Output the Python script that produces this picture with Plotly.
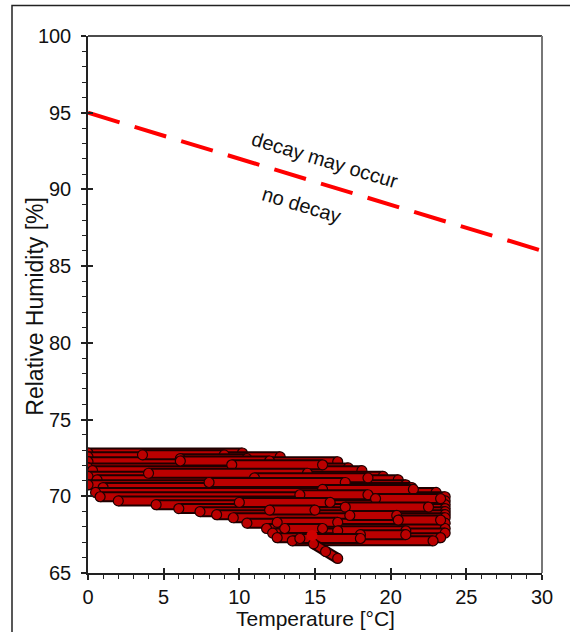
import plotly.graph_objects as go

# ---- data ----
# horizontal strands of observations: RH level [%], start / end temperature [°C]
strand_rh = [72.82, 72.57, 72.25, 71.85, 71.67, 71.30, 71.07, 70.75, 70.57, 70.25,
             69.97, 69.70, 69.45, 69.20, 69.00, 68.80, 68.60, 68.25, 67.90, 67.60,
             67.30, 67.10]
strand_t0 = [0.0, 0.0, 0.0, 0.0, 0.3, 0.0, 0.6, 0.0, 1.0, 0.5,
             0.8, 2.0, 4.5, 6.0, 7.4, 8.5, 9.6, 10.5, 11.8, 12.2,
             12.5, 13.5]
strand_t1 = [10.2, 12.7, 16.5, 17.2, 18.1, 19.5, 20.5, 21.0, 21.4, 23.0,
             23.6, 23.6, 23.6, 23.6, 23.6, 23.6, 23.6, 23.6, 23.6, 23.6,
             23.3, 22.8]
# shorter overlapping runs inside the cloud
run_rh = [72.70, 72.45, 72.30, 72.05, 71.50, 71.20, 70.90, 70.45, 70.10, 69.85,
          69.60, 69.30, 69.10, 68.75, 68.45, 68.30, 67.90, 67.75, 67.50, 67.25]
run_t0 = [3.6, 6.1, 6.1, 9.5, 4.0, 11.0, 8.0, 15.5, 14.0, 19.0,
          10.0, 17.0, 12.0, 17.3, 20.5, 12.5, 13.0, 16.5, 18.0, 14.0]
run_t1 = [9.0, 10.5, 12.0, 15.5, 14.5, 18.5, 17.0, 21.5, 18.5, 23.3,
          16.0, 22.5, 15.0, 20.4, 23.3, 16.5, 15.5, 21.0, 21.0, 18.0]
# tail of the cloud
tail_t = [14.9, 15.7, 16.5]
tail_rh = [66.9, 66.4, 65.95]
# last observation
last_t = [14.8]
last_rh = [67.45]
# decay threshold line
thr_t = [0.0, 30.5]
thr_rh = [95.0, 85.85]

FILL = "#bb0000"
EDGE = "#1e0000"

fig = go.Figure()


def add_run(ts, rs):
    fig.add_trace(go.Scatter(x=ts, y=rs, mode="lines",
                             line=dict(color=EDGE, width=11),
                             hoverinfo="skip", showlegend=False))
    fig.add_trace(go.Scatter(x=ts, y=rs, mode="lines+markers",
                             line=dict(color=FILL, width=7),
                             marker=dict(size=10, color=FILL, line=dict(color=EDGE, width=1.2)),
                             hoverinfo="skip", showlegend=False))


for r, a, b in zip(strand_rh, strand_t0, strand_t1):
    add_run([a, b], [r, r])
for r, a, b in zip(run_rh, run_t0, run_t1):
    add_run([a, b], [r, r])
add_run(tail_t, tail_rh)

fig.add_trace(go.Scatter(x=last_t, y=last_rh, mode="markers",
                         marker=dict(size=11, color="#d00000", line=dict(width=0)),
                         showlegend=False, hoverinfo="skip"))

fig.add_trace(go.Scatter(x=thr_t, y=thr_rh, mode="lines",
                         line=dict(color="#ff0000", width=4, dash="33px,15.7px"),
                         showlegend=False, hoverinfo="skip"))

# invisible trace on overlay axes (used for crossing major ticks)
fig.add_trace(go.Scatter(x=[0], y=[65], xaxis="x2", yaxis="y2", mode="markers",
                         marker=dict(opacity=0), showlegend=False, hoverinfo="skip"))

FONT = "Liberation Sans, Arial, sans-serif"
fig.add_annotation(x=15.66, y=91.9, text="decay may occur", showarrow=False,
                   textangle=16.8, font=dict(family=FONT, size=20, color="#111"))
fig.add_annotation(x=14.14, y=89.0, text="no decay", showarrow=False,
                   textangle=16.8, font=dict(family=FONT, size=20, color="#111"))
# axis titles
fig.add_annotation(xref="paper", yref="paper", x=0.501, y=-0.0845, yanchor="middle",
                   text="Temperature [°C]", showarrow=False,
                   font=dict(family=FONT, size=21, color="#111"))
fig.add_annotation(xref="paper", yref="paper", x=-0.1167, y=0.496, xanchor="center",
                   yanchor="middle", textangle=-90,
                   text="Relative Humidity [%]", showarrow=False,
                   font=dict(family=FONT, size=23, color="#111"))

axis_common = dict(showgrid=False, zeroline=False, ticks="outside", ticklen=5,
                   tickwidth=1.5, tickcolor="#222", showline=True, linecolor="#222",
                   linewidth=1.5,
                   tickfont=dict(family=FONT, size=20, color="#111"))
fig.update_layout(
    width=570, height=632,
    margin=dict(l=88, r=28, t=36, b=59),
    paper_bgcolor="white", plot_bgcolor="white",
    xaxis=dict(range=[0, 30], tick0=0, dtick=5, mirror=False, ticklabelstandoff=0,
               minor=dict(dtick=1, ticklen=4, tickwidth=1.2, tickcolor="#222", ticks="outside"),
               **axis_common),
    yaxis=dict(range=[65, 100], tick0=65, dtick=5, ticklabelstandoff=6,
               minor=dict(dtick=1, ticklen=4, tickwidth=1.2, tickcolor="#222", ticks="outside"),
               **axis_common),
    xaxis2=dict(range=[0, 30], overlaying="x", anchor="y2", side="bottom", tick0=0, dtick=5,
                ticks="inside", ticklen=5, tickwidth=1.5, tickcolor="#222",
                showticklabels=False, showgrid=False, zeroline=False, showline=False),
    yaxis2=dict(range=[65, 100], overlaying="y", anchor="x2", side="left", tick0=65, dtick=5,
                ticks="inside", ticklen=5, tickwidth=1.5, tickcolor="#222",
                showticklabels=False, showgrid=False, zeroline=False, showline=False),
    shapes=[
        dict(type="line", xref="paper", yref="paper", x0=0, x1=1, y0=1, y1=1,
             line=dict(color="#111", width=1.5)),
        dict(type="line", xref="paper", yref="paper", x0=1, x1=1, y0=0, y1=1,
             line=dict(color="#777", width=2)),
        dict(type="rect", xref="paper", yref="paper", x0=-0.1674, x1=1.3, y0=-0.3, y1=1.0568,
             line=dict(color="#222", width=1.5)),
    ],
)

fig.write_html("out.html")
